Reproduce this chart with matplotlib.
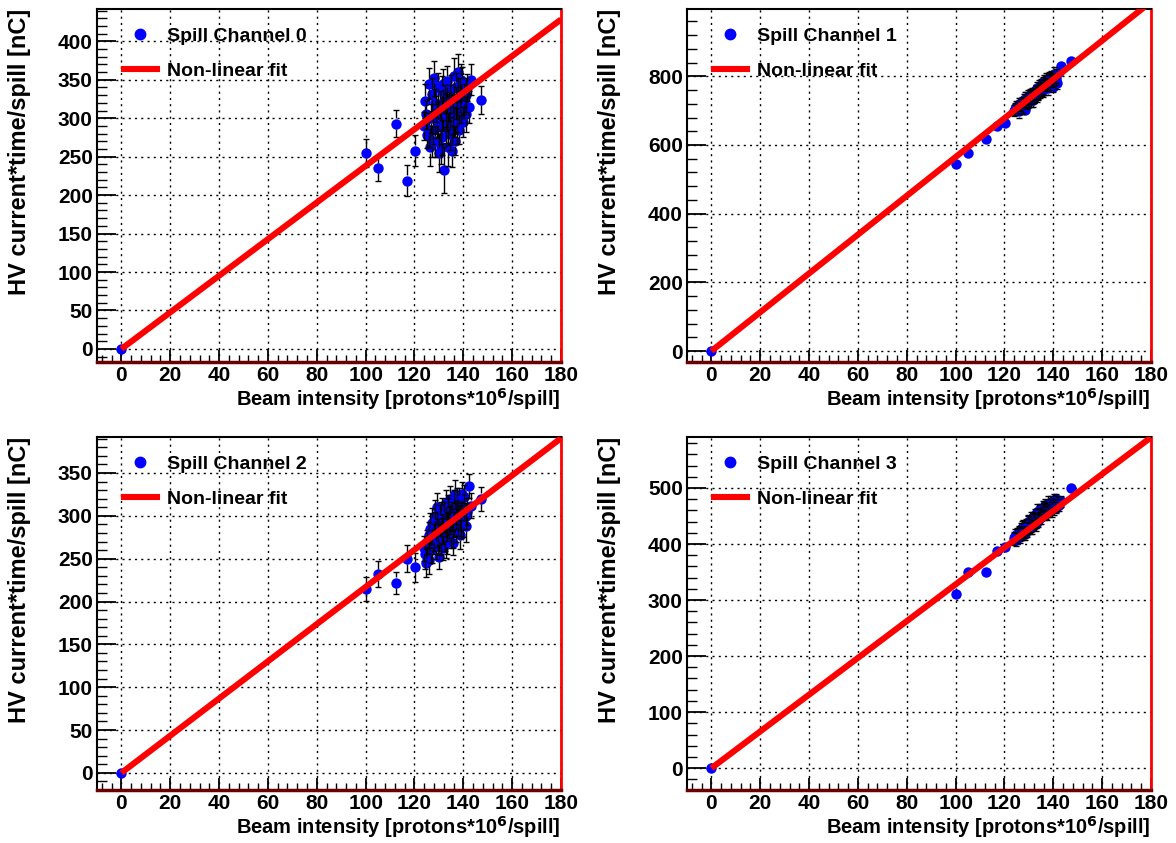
import matplotlib
matplotlib.use("Agg")
import matplotlib.pyplot as plt
from matplotlib.ticker import MultipleLocator
from matplotlib.lines import Line2D
import numpy as np

plt.rcParams["font.family"] = ["Liberation Sans", "DejaVu Sans"]
plt.rcParams["font.weight"] = "bold"
plt.rcParams["mathtext.default"] = "bf"

# Beam intensity per spill [protons*10^6/spill]
intensity = [0.0, 100.2, 105.0, 112.4, 117.1, 120.3,
             123.8, 124.5, 125.2, 125.9, 126.3, 126.8, 127.2, 127.7, 128.1, 128.5,
             128.9, 129.3, 129.6, 130.0, 130.4, 130.7, 131.1, 131.4, 131.8, 132.1,
             132.5, 132.8, 133.2, 133.5, 133.9, 134.2, 134.6, 134.9, 135.3, 135.6,
             136.0, 136.3, 136.7, 137.0, 137.4, 137.8, 138.2, 138.6, 139.0, 139.4,
             139.9, 140.4, 141.0, 141.7, 142.5, 143.3, 147.2,
             124.9, 126.0, 127.0, 128.3, 129.8, 130.9, 131.6, 132.9, 133.7, 134.4,
             135.8, 136.9, 137.6, 138.9, 140.1, 141.3]

# HV current * time per spill [nC], one list per channel
charge_ch0 = [0, 255, 235, 293, 219, 258,
              290, 322, 278, 345, 262, 300, 331, 285, 352, 270,
              312, 296, 340, 255, 318, 288, 335, 275, 305, 233,
              325, 290, 348, 300, 262, 315, 280, 338, 258, 310,
              295, 355, 270, 320, 302, 360, 285, 330, 312, 345,
              295, 325, 305, 340, 315, 350, 324,
              305, 285, 270, 320, 298, 262, 345, 310, 285, 325,
              300, 340, 290, 350, 318, 330]
charge_ch1 = [0, 545, 578, 617, 655, 665,
              700, 705, 712, 698, 720, 708, 725, 715, 730, 702,
              735, 722, 740, 728, 745, 733, 750, 738, 755, 742,
              748, 760, 745, 765, 752, 770, 758, 775, 762, 780,
              768, 785, 772, 790, 778, 765, 795, 782, 800, 788,
              770, 808, 792, 780, 812, 830, 845,
              710, 718, 705, 735, 725, 740, 732, 752, 748, 766,
              760, 775, 785, 795, 790, 800]
charge_ch2 = [0, 215, 232, 222, 250, 240,
              262, 255, 270, 248, 285, 260, 292, 270, 275, 300,
              265, 310, 280, 252, 295, 270, 305, 285, 262, 298,
              275, 315, 288, 270, 305, 292, 320, 280, 300, 268,
              312, 290, 325, 285, 305, 295, 318, 278, 300, 325,
              292, 310, 288, 305, 335, 312, 320,
              245, 278, 262, 290, 272, 300, 282, 268, 310, 295,
              280, 300, 315, 290, 322, 300]
charge_ch3 = [0, 310, 350, 350, 388, 395,
              410, 415, 418, 420, 412, 425, 418, 430, 422, 428,
              435, 426, 440, 432, 428, 445, 438, 430, 448, 440,
              452, 436, 445, 458, 442, 450, 462, 448, 455, 465,
              452, 460, 470, 456, 465, 472, 460, 468, 475, 462,
              470, 478, 465, 472, 470, 476, 500,
              408, 420, 428, 418, 438, 432, 442, 438, 452, 446,
              458, 462, 455, 470, 465, 480]

# Per-spill uncertainties [nC]
err_ch0 = [2, 18, 16, 18, 20, 20,
           18, 22, 17, 20, 24, 19, 21, 18, 23, 20,
           17, 22, 19, 25, 18, 21, 20, 23, 19, 30,
           18, 22, 20, 17, 24, 19, 21, 18, 22, 20,
           19, 23, 18, 21, 20, 24, 19, 22, 18, 21,
           20, 19, 23, 18, 21, 20, 18,
           19, 22, 20, 18, 23, 21, 19, 22, 20, 18,
           21, 19, 23, 20, 18, 22]
err_ch1 = [2, 6, 6, 7, 7, 8,
           16, 18, 15, 20, 17, 19, 16, 21, 18, 15,
           19, 17, 20, 16, 18, 21, 17, 19, 15, 20,
           18, 16, 21, 17, 19, 18, 20, 16, 19, 17,
           21, 18, 16, 20, 17, 19, 18, 21, 16, 19,
           17, 20, 18, 16, 15, 14, 8,
           17, 19, 16, 20, 18, 17, 21, 19, 16, 18,
           20, 17, 19, 16, 18, 20]
err_ch2 = [2, 14, 15, 13, 16, 17,
           15, 17, 14, 16, 18, 15, 17, 14, 16, 18,
           15, 17, 16, 14, 18, 15, 16, 17, 14, 18,
           16, 15, 17, 14, 16, 18, 15, 17, 16, 14,
           18, 15, 17, 16, 14, 18, 15, 17, 16, 14,
           17, 15, 18, 16, 14, 15, 14,
           16, 15, 17, 14, 18, 16, 15, 17, 14, 16,
           18, 15, 17, 16, 14, 15]
err_ch3 = [1, 4, 4, 4, 5, 5,
           11, 12, 10, 13, 11, 12, 10, 13, 11, 12,
           10, 13, 11, 12, 10, 13, 11, 12, 10, 13,
           11, 12, 10, 13, 11, 12, 10, 13, 11, 12,
           10, 13, 11, 12, 10, 13, 11, 12, 10, 13,
           11, 12, 10, 13, 11, 10, 5,
           12, 11, 13, 10, 12, 11, 13, 10, 12, 11,
           13, 10, 12, 11, 13, 10]

# Fit coefficients (p0 + p1*x + p2*x^2) per channel
fit_p0 = [0.0, 0.0, 0.0, 0.0]
fit_p1 = [2.38, 5.65, 2.17, 3.28]
fit_p2 = [0.0, 0.0, 0.0, 0.0]

channels = [charge_ch0, charge_ch1, charge_ch2, charge_ch3]
errors = [err_ch0, err_ch1, err_ch2, err_ch3]
channel_names = ["Spill Channel 0", "Spill Channel 1", "Spill Channel 2", "Spill Channel 3"]
y_limits = [(-17, 442), (-32, 996), (-20, 392), (-39, 591)]
y_major = [50, 200, 50, 100]
x_limits = (-10, 180)

DPI = 100
fig = plt.figure(figsize=(11.76, 8.43), dpi=DPI)
W, H = 1176.0, 843.0
# frame boxes in pixels: left, top, right, bottom
boxes = [(97, 9, 561, 362), (687, 9, 1151, 362),
         (97, 437, 561, 790), (687, 437, 1151, 790)]

TICK_FS = 15
XTITLE_FS = 14.5
YTITLE_FS = 17
LEG_FS = 14
MARKER_SIZE = 7.5


def draw_error_bars(ax, x, y, err):
    """ROOT-style vertical error bars that stop at the marker edge."""
    x = np.asarray(x, float)
    y = np.asarray(y, float)
    err = np.asarray(err, float)
    # marker radius expressed in data units of y
    px_per_unit = (ax.transData.transform((0, 1)) - ax.transData.transform((0, 0)))[1]
    r = (MARKER_SIZE / 2.0) * DPI / 72.0 / px_per_unit
    show = err > r
    ax.vlines(x[show], y[show] + r, y[show] + err[show], color="black", lw=1.0, zorder=4)
    ax.vlines(x[show], y[show] - err[show], y[show] - r, color="black", lw=1.0, zorder=4)
    ax.plot(x[show], y[show] + err[show], linestyle="none", marker="_", color="black",
            markersize=4, markeredgewidth=1.0, zorder=4)
    ax.plot(x[show], y[show] - err[show], linestyle="none", marker="_", color="black",
            markersize=4, markeredgewidth=1.0, zorder=4)


for i, (ch, name) in enumerate(zip(channels, channel_names)):
    l, t, r, b = boxes[i]
    ax = fig.add_axes([l / W, 1 - b / H, (r - l) / W, (b - t) / H])
    ax.set_xlim(*x_limits)
    ax.set_ylim(*y_limits[i])

    ax.xaxis.set_major_locator(MultipleLocator(20))
    ax.xaxis.set_minor_locator(MultipleLocator(4))
    ax.yaxis.set_major_locator(MultipleLocator(y_major[i]))
    ax.yaxis.set_minor_locator(MultipleLocator(y_major[i] / 5))
    ax.tick_params(axis="both", which="both", direction="in", top=False, right=False,
                   labelsize=TICK_FS, pad=3)
    ax.tick_params(axis="y", which="major", length=14, width=1.3)
    ax.tick_params(axis="y", which="minor", length=7, width=1.0)
    ax.tick_params(axis="x", which="major", length=9, width=1.3)
    ax.tick_params(axis="x", which="minor", length=5, width=1.0)
    for lab in ax.get_xticklabels() + ax.get_yticklabels():
        lab.set_fontweight("bold")

    ax.grid(True, which="major", color="black", linestyle=(0, (1.5, 3)), linewidth=1.0)
    ax.set_axisbelow(True)

    for side in ["top", "left"]:
        ax.spines[side].set_linewidth(1.5)
        ax.spines[side].set_color("black")
    ax.spines["right"].set_color("red")
    ax.spines["right"].set_linewidth(2.0)
    ax.spines["bottom"].set_color("#6a0000")
    ax.spines["bottom"].set_linewidth(2.5)

    ax.plot(intensity, ch, linestyle="none", marker="o", color="blue",
            markersize=MARKER_SIZE, markeredgewidth=0, zorder=3)
    draw_error_bars(ax, intensity, ch, errors[i])

    xf = np.linspace(0, x_limits[1], 200)
    yf = fit_p0[i] + fit_p1[i] * xf + fit_p2[i] * xf ** 2
    ax.plot(xf, yf, color="red", linewidth=4.4, zorder=5, solid_capstyle="butt")

    ax.set_xlabel("Beam intensity [protons*10$^6$/spill]", fontsize=XTITLE_FS,
                  fontweight="bold", ha="right")
    ax.xaxis.set_label_coords(1.0, -0.068)
    ax.set_ylabel("HV current*time/spill [nC]", fontsize=YTITLE_FS,
                  fontweight="bold", ha="right")
    ax.yaxis.set_label_coords(-0.143, 1.0)

    handles = [Line2D([], [], marker="o", color="blue", linestyle="none",
                      markersize=MARKER_SIZE),
               Line2D([], [], color="red", linewidth=4.4)]
    ax.legend(handles, [name, "Non-linear fit"], loc="upper left",
              bbox_to_anchor=(0.018, 1.0), frameon=False,
              handlelength=1.7, handletextpad=0.5, labelspacing=0.9,
              borderpad=0.95, borderaxespad=0.0,
              prop={"weight": "bold", "size": LEG_FS})

fig.savefig("out.png", dpi=DPI, facecolor="white")
